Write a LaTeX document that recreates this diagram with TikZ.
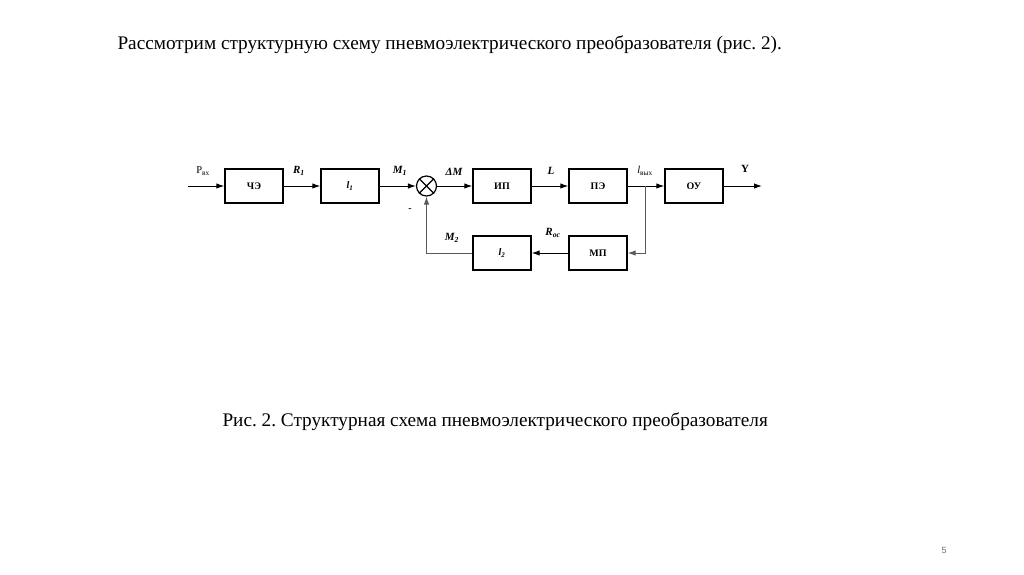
\documentclass[tikz,border=0pt]{standalone}
\usepackage{fontspec}
\setmainfont{Liberation Serif}
\newfontfamily\numfont{Liberation Sans}
\usepackage{tikz}
\usetikzlibrary{arrows.meta}
\newcommand{\corA}{black}
\newcommand{\corB}{black!65}
\newcommand{\corC}{black!55}
\frenchspacing

\begin{document}
\begin{tikzpicture}[x=1pt, y=-1pt,
    bloco/.style={draw=\corA, line width=1.4pt, minimum width=58pt, minimum height=34pt,
                  inner sep=0pt, font=\fontsize{10}{12}\selectfont\bfseries},
    soma/.style={draw=\corA, line width=1.2pt, circle, minimum size=20pt, inner sep=0pt},
    seta/.style={line width=1pt, -{Latex[length=8pt,width=5.5pt]}},
    rotulo/.style={font=\fontsize{11}{12}\selectfont\bfseries\itshape, inner sep=0pt}]
        \useasboundingbox (0,0) rectangle (1024,574);

          % texto
        \node[anchor=west, font=\fontsize{19.25}{22}\selectfont] (titulo) at (114,45)
            {Рассмотрим структурную схему пневмоэлектрического преобразователя (рис. 2).};
        \node[anchor=west, font=\fontsize{19.25}{22}\selectfont] (legenda) at (219,422)
            {Рис. 2. Структурная схема пневмоэлектрического преобразователя};
        \node[font=\fontsize{9}{10}\selectfont\numfont, text=\corC] (pagina) at (944,550) {5};

          % blocos
        \node[bloco] (che) at (254,186) {ЧЭ};
        \node[bloco] (lum) at (350,186) {\textit{l\textsubscript{1}}};
        \node[soma] (sum) at (426.5,186) {};
        \draw[line width=1.2pt] (sum.north west) -- (sum.south east)
                                (sum.north east) -- (sum.south west);
        \node[bloco] (ip) at (502,186) {ИП};
        \node[bloco] (pe) at (598,186) {ПЭ};
        \node[bloco] (ou) at (694,186) {ОУ};
        \node[bloco] (ldois) at (502,253) {\textit{l\textsubscript{2}}};
        \node[bloco] (mp) at (598,253) {МП};

          % pontos livres
        \coordinate (entrada) at (188,186);
        \coordinate (saida) at (762,186);
        \coordinate (ramo) at (645,186);

          % ligacoes
        \draw[seta] (entrada) -- (che.west);
        \draw[seta] (che.east) -- (lum.west);
        \draw[seta] (lum.east) -- (sum.west);
        \draw[seta] (sum.east) -- (ip.west);
        \draw[seta] (ip.east) -- (pe.west);
        \draw[seta] (pe.east) -- (ou.west);
        \draw[seta] (ou.east) -- (saida);
        \draw[seta, draw=\corB] (ramo) |- (mp.east);
        \draw[seta] (mp.west) -- (ldois.east);
        \draw[seta, draw=\corB] (ldois.west) -| (sum.south);

          % rotulos
        \node[font=\fontsize{10.5}{12}\selectfont, inner sep=0pt] (pvx) at (203,171) {P\textsubscript{вх}};
        \node[rotulo] (rum) at (299,171) {R\textsubscript{1}};
        \node[rotulo] (mum) at (400,171) {M\textsubscript{1}};
        \node[rotulo] (dm) at (454,172) {ΔM};
        \node[rotulo] (ll) at (551,171) {L};
        \node[font=\fontsize{10.5}{12}\selectfont, inner sep=0pt] (lvyx) at (645,171) {\textit{l}\textsubscript{вых}};
        \node[font=\fontsize{11}{12}\selectfont\bfseries, inner sep=0pt] (yy) at (745,169) {Y};
        \node[font=\fontsize{10}{12}\selectfont\bfseries, inner sep=0pt] (menos) at (410,210) {-};
        \node[rotulo] (mdois) at (452,238) {M\textsubscript{2}};
        \node[rotulo] (ros) at (553,233) {R\textsubscript{ос}};
    \end{tikzpicture}
\end{document}
